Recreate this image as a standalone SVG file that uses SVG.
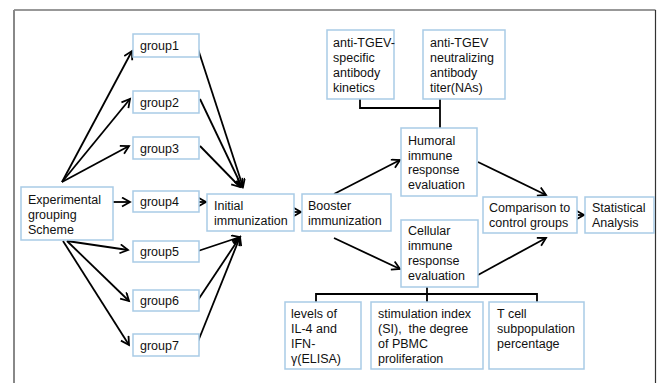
<svg xmlns="http://www.w3.org/2000/svg" width="659" height="383" viewBox="0 0 659 383">
<style>
.box{fill:#fff;stroke:#a9cbe6;stroke-width:1.5}
.t{font-family:"Liberation Sans",Arial,sans-serif;font-size:12.5px;fill:#111}
.a{stroke:#000;stroke-width:1.8;fill:none;marker-end:url(#ah)}
.l{stroke:#000;stroke-width:1.8;fill:none}
</style>
<defs>
<marker id="ah" markerUnits="userSpaceOnUse" markerWidth="12" markerHeight="12" refX="9" refY="5" orient="auto">
<path d="M1,0.5 L9,5 L1,9.5" fill="none" stroke="#000" stroke-width="1.8"/>
</marker>
</defs>
<rect width="659" height="383" fill="#fff"/>
<line x1="14" y1="10" x2="655.5" y2="10" stroke="#333" stroke-width="1.2"/>
<line x1="655.5" y1="10" x2="655.5" y2="383" stroke="#333" stroke-width="1.2"/>
<line x1="14" y1="10" x2="14" y2="383" stroke="#888" stroke-width="2"/>

<g id="connectors">
<line class="a" x1="62" y1="182" x2="132" y2="51"/>
<line class="a" x1="62" y1="182" x2="130" y2="99"/>
<line class="a" x1="62" y1="182" x2="129" y2="146"/>
<line class="a" x1="113" y1="202" x2="130" y2="202"/>
<line class="a" x1="67" y1="241" x2="128" y2="250"/>
<line class="a" x1="67" y1="241" x2="129" y2="301"/>
<line class="a" x1="63" y1="241" x2="129" y2="345"/>
<line class="a" x1="198" y1="49" x2="243" y2="187"/>
<line class="a" x1="200" y1="99" x2="242" y2="187"/>
<line class="a" x1="200" y1="146" x2="240" y2="187"/>
<line class="a" x1="199" y1="202" x2="206" y2="202"/>
<line class="a" x1="198" y1="251" x2="240" y2="237"/>
<line class="a" x1="198" y1="300" x2="240" y2="237"/>
<line class="a" x1="197" y1="344" x2="240" y2="237"/>
<line class="a" x1="294" y1="212" x2="301" y2="212"/>
<line class="a" x1="334" y1="194" x2="400" y2="160"/>
<line class="a" x1="334" y1="238" x2="400" y2="269"/>
<line class="a" x1="478" y1="162" x2="546" y2="195"/>
<line class="a" x1="478" y1="275" x2="546" y2="238"/>
<line class="a" x1="578" y1="215" x2="584" y2="215"/>
<polyline class="l" points="360,99 360,108 440,108"/>
<line class="l" x1="440" y1="99" x2="440" y2="128"/>
<line class="l" x1="427" y1="287" x2="427" y2="302"/>
<polyline class="l" points="316,302 316,294 537,294 537,302"/>
</g>

<g id="exp"><rect class="box" x="21" y="187" width="92" height="53"/>
<text class="t" x="28" y="204">Experimental</text><text class="t" x="28" y="219">grouping</text><text class="t" x="28" y="234">Scheme</text></g>
<g id="group1"><rect class="box" x="133" y="34" width="66" height="23"/><text class="t" x="140" y="50">group1</text></g>
<g id="group2"><rect class="box" x="133" y="91" width="66" height="22"/><text class="t" x="140" y="106.5">group2</text></g>
<g id="group3"><rect class="box" x="133" y="137" width="66" height="22"/><text class="t" x="140" y="152.5">group3</text></g>
<g id="group4"><rect class="box" x="133" y="191" width="66" height="21"/><text class="t" x="140" y="206">group4</text></g>
<g id="group5"><rect class="box" x="133" y="241" width="66" height="21"/><text class="t" x="140" y="256">group5</text></g>
<g id="group6"><rect class="box" x="133" y="290" width="66" height="21"/><text class="t" x="140" y="305">group6</text></g>
<g id="group7"><rect class="box" x="133" y="334" width="66" height="22"/><text class="t" x="140" y="349.5">group7</text></g>
<g id="initial"><rect class="box" x="207" y="194" width="87" height="37"/>
<text class="t" x="214" y="209.5">Initial</text><text class="t" x="214" y="225">immunization</text></g>
<g id="booster"><rect class="box" x="302" y="194" width="89" height="37"/>
<text class="t" x="308" y="209.5">Booster</text><text class="t" x="308" y="224.5">immunization</text></g>
<g id="kinetics"><rect class="box" x="327" y="30" width="67" height="69"/>
<text class="t" x="333" y="46.5">anti-TGEV-</text><text class="t" x="333" y="61.5">specific</text><text class="t" x="333" y="76.5">antibody</text><text class="t" x="333" y="91.5">kinetics</text></g>
<g id="nas"><rect class="box" x="423" y="30" width="82" height="69"/>
<text class="t" x="430" y="46.5">anti-TGEV</text><text class="t" x="430" y="61.5">neutralizing</text><text class="t" x="430" y="76.5">antibody</text><text class="t" x="430" y="91.5">titer(NAs)</text></g>
<g id="humoral"><rect class="box" x="401" y="128" width="76" height="68"/>
<text class="t" x="408" y="144.5">Humoral</text><text class="t" x="408" y="159.5">immune</text><text class="t" x="408" y="174">response</text><text class="t" x="408" y="189">evaluation</text></g>
<g id="cellular"><rect class="box" x="401" y="220" width="77" height="67"/>
<text class="t" x="408" y="234.5">Cellular</text><text class="t" x="408" y="249.5">immune</text><text class="t" x="408" y="264.5">response</text><text class="t" x="408" y="279.5">evaluation</text></g>
<g id="comparison"><rect class="box" x="483" y="197" width="94" height="36"/>
<text class="t" x="489" y="211.5">Comparison to</text><text class="t" x="489" y="227">control groups</text></g>
<g id="statistical"><rect class="box" x="585" y="197" width="69" height="36"/>
<text class="t" x="592" y="211.5">Statistical</text><text class="t" x="592" y="226.5">Analysis</text></g>
<g id="levels"><rect class="box" x="285" y="302" width="76" height="67"/>
<text class="t" x="291" y="317.5">levels of</text><text class="t" x="291" y="332.5">IL-4 and</text><text class="t" x="291" y="347.5">IFN-</text><text class="t" x="291" y="362.5">γ(ELISA)</text></g>
<g id="stimulation"><rect class="box" x="371" y="302" width="112" height="67"/>
<text class="t" x="378" y="317.5">stimulation index</text><text class="t" x="378" y="332.5" xml:space="preserve">(SI),  the degree</text><text class="t" x="378" y="347.5">of PBMC</text><text class="t" x="378" y="362.5">proliferation</text></g>
<g id="tcell"><rect class="box" x="489" y="302" width="95" height="67"/>
<text class="t" x="497" y="317.5">T cell</text><text class="t" x="497" y="332.5">subpopulation</text><text class="t" x="497" y="347.5">percentage</text></g>
</svg>
